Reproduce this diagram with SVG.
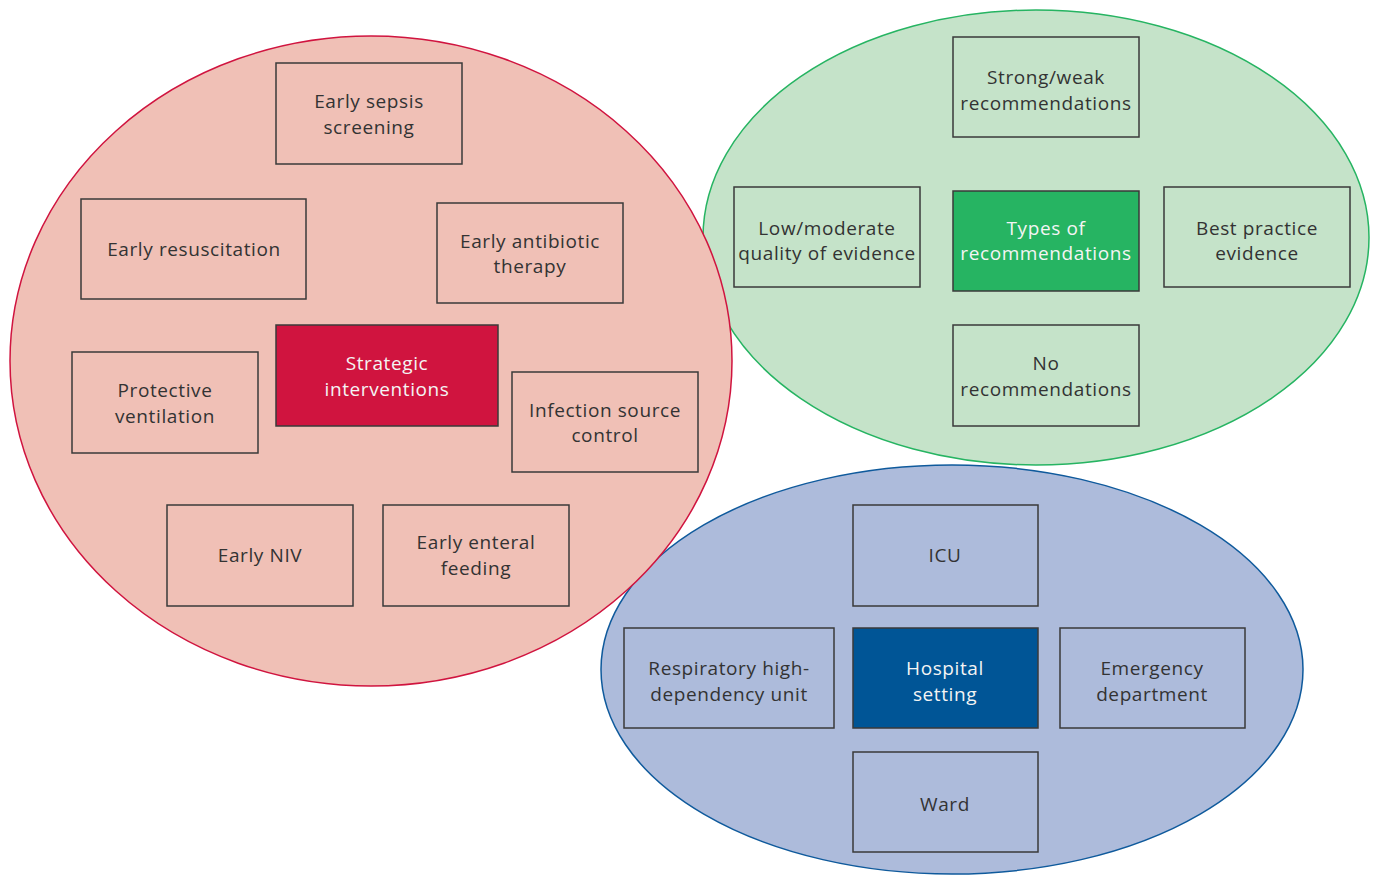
<svg xmlns="http://www.w3.org/2000/svg" width="1374" height="877" viewBox="0 0 1374 877">
<style>
.box{fill:none;stroke:#3a3a3a;stroke-width:1.5}
.t{font-family:"Open Sans","Liberation Sans",sans-serif;font-size:19px;fill:#333;text-anchor:middle;letter-spacing:0.6px}
.w{fill:#f4f4f4}
</style>
<rect width="1374" height="877" fill="#fff"/>
<g id="cluster-green"><ellipse cx="1036" cy="237.5" rx="333" ry="227.5" fill="#c5e3c9" stroke="#26b462" stroke-width="1.5"/></g>
<g id="cluster-blue"><ellipse cx="952" cy="669.5" rx="351" ry="204.5" fill="#adbbdb" stroke="#0f5a9c" stroke-width="1.5"/></g>
<g id="cluster-red"><ellipse cx="371" cy="361" rx="361" ry="325" fill="#f0c0b6" stroke="#d0143f" stroke-width="1.5"/></g>
<g id="connectors"></g>

<g id="n-sepsis"><rect class="box" x="276" y="63" width="186" height="101"/><text class="t" x="369" y="108">Early sepsis</text><text class="t" x="369" y="134">screening</text></g>
<g id="n-resus"><rect class="box" x="81" y="199" width="225" height="100"/><text class="t" x="194" y="256">Early resuscitation</text></g>
<g id="n-antibiotic"><rect class="box" x="437" y="203" width="186" height="100"/><text class="t" x="530" y="248">Early antibiotic</text><text class="t" x="530" y="273">therapy</text></g>
<g id="n-protective"><rect class="box" x="72" y="352" width="186" height="101"/><text class="t" x="165" y="397">Protective</text><text class="t" x="165" y="423">ventilation</text></g>
<g id="n-strategic"><rect x="276" y="325" width="222" height="101" fill="#d0143f" stroke="#3a3a3a" stroke-width="1.5"/><text class="t w" x="387" y="370">Strategic</text><text class="t w" x="387" y="396">interventions</text></g>
<g id="n-source"><rect class="box" x="512" y="372" width="186" height="100"/><text class="t" x="605" y="417">Infection source</text><text class="t" x="605" y="442">control</text></g>
<g id="n-niv"><rect class="box" x="167" y="505" width="186" height="101"/><text class="t" x="260" y="562">Early NIV</text></g>
<g id="n-enteral"><rect class="box" x="383" y="505" width="186" height="101"/><text class="t" x="476" y="549">Early enteral</text><text class="t" x="476" y="575">feeding</text></g>

<g id="n-strong"><rect class="box" x="953" y="37" width="186" height="100"/><text class="t" x="1046" y="84">Strong/weak</text><text class="t" x="1046" y="110">recommendations</text></g>
<g id="n-lowmod"><rect class="box" x="734" y="187" width="186" height="100"/><text class="t" x="827" y="235">Low/moderate</text><text class="t" x="827" y="260">quality of evidence</text></g>
<g id="n-types"><rect x="953" y="191" width="186" height="100" fill="#26b462" stroke="#3a3a3a" stroke-width="1.5"/><text class="t w" x="1046" y="235">Types of</text><text class="t w" x="1046" y="260">recommendations</text></g>
<g id="n-best"><rect class="box" x="1164" y="187" width="186" height="100"/><text class="t" x="1257" y="235">Best practice</text><text class="t" x="1257" y="260">evidence</text></g>
<g id="n-norec"><rect class="box" x="953" y="325" width="186" height="101"/><text class="t" x="1046" y="370">No</text><text class="t" x="1046" y="396">recommendations</text></g>

<g id="n-icu"><rect class="box" x="853" y="505" width="185" height="101"/><text class="t" x="945" y="562">ICU</text></g>
<g id="n-rhdu"><rect class="box" x="624" y="628" width="210" height="100"/><text class="t" x="729" y="675">Respiratory high-</text><text class="t" x="729" y="701">dependency unit</text></g>
<g id="n-hospital"><rect x="853" y="628" width="185" height="100" fill="#005596" stroke="#3a3a3a" stroke-width="1.5"/><text class="t w" x="945" y="675">Hospital</text><text class="t w" x="945" y="701">setting</text></g>
<g id="n-ed"><rect class="box" x="1060" y="628" width="185" height="100"/><text class="t" x="1152" y="675">Emergency</text><text class="t" x="1152" y="701">department</text></g>
<g id="n-ward"><rect class="box" x="853" y="752" width="185" height="100"/><text class="t" x="945" y="811">Ward</text></g>
</svg>
